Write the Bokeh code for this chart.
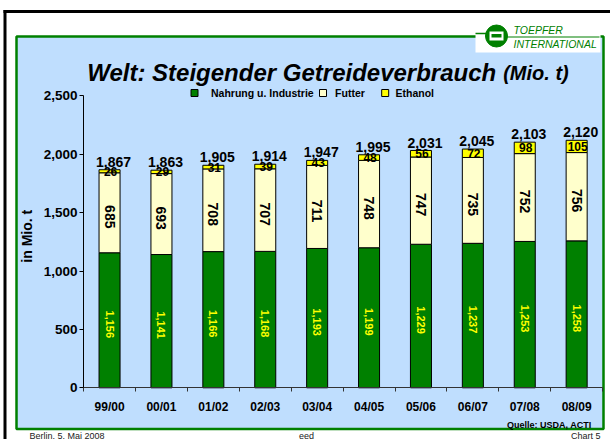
import math
from bokeh.plotting import figure
from bokeh.models import (Range1d, LinearAxis, FixedTicker, NumeralTickFormatter,
                          ColumnDataSource)
from bokeh.core.properties import value
from bokeh.embed import file_html
from bokeh.resources import INLINE

# ---------------- data ----------------
seasons = ["99/00", "00/01", "01/02", "02/03", "03/04",
           "04/05", "05/06", "06/07", "07/08", "08/09"]
nahrung = [1156, 1141, 1166, 1168, 1193, 1199, 1229, 1237, 1253, 1258]
futter = [685, 693, 708, 707, 711, 748, 747, 735, 752, 756]
ethanol = [26, 29, 31, 39, 43, 48, 56, 72, 98, 105]
totals = [1867, 1863, 1905, 1914, 1947, 1995, 2031, 2045, 2103, 2120]
y_ticks = [0, 500, 1000, 1500, 2000, 2500]
series_names = ["Nahrung u. Industrie", "Futter", "Ethanol"]
title_main = "Welt: Steigender Getreideverbrauch"
title_unit = "(Mio. t)"
y_label = "in Mio. t"
source_note = "Quelle: USDA, ACTI"
footer_left, footer_mid, footer_right = "Berlin, 5. Mai 2008", "eed", "Chart 5"
logo_top, logo_bottom = "TOEPFER", "INTERNATIONAL"

# ---------------- styling ----------------
FONT = value("Liberation Sans")
GREEN = "#008000"
CREAM = "#FFFFCC"
YELLOW = "#FFFF00"
PANEL = "#BFDEFE"
series_colors = [GREEN, CREAM, YELLOW]

W, H = 610, 439
X0 = 83.1          # px of the category axis start
STEP = 51.9        # px per category
Y0 = 387.3         # px of value 0
PXU = 292.0 / 2500  # px per unit

p = figure(width=W, height=H, output_backend="svg", toolbar_location=None,
           x_range=Range1d(-X0 / STEP, (W - X0) / STEP),
           y_range=Range1d(-(H - Y0) / PXU, Y0 / PXU),
           x_axis_location=None, y_axis_location=None,
           min_border=0, min_border_left=0, min_border_right=0,
           min_border_top=0, min_border_bottom=0)
p.title.visible = False
p.outline_line_color = None
p.background_fill_color = "white"
p.border_fill_color = "white"
for g in p.grid:
    g.visible = False

p.extra_x_ranges = {"px": Range1d(0, W)}
p.extra_y_ranges = {"px": Range1d(H, 0)}
PX = dict(x_range_name="px", y_range_name="px")

# ---------------- slide decoration ----------------
p.quad(left=[3], right=[W], top=[9.5], bottom=[12.5], fill_color="black",
       line_color=None, **PX)
p.quad(left=[3], right=[6], top=[9.5], bottom=[H], fill_color="black",
       line_color=None, **PX)
p.quad(left=[16], right=[603], top=[36], bottom=[428.5], fill_color=PANEL,
       line_color=GREEN, line_width=2.5, **PX)
# logo
p.quad(left=[475], right=[600], top=[23], bottom=[52], fill_color="white",
       line_color=None, **PX)
p.segment(x0=[475], y0=[33], x1=[486], y1=[33], line_color=GREEN, line_width=1.5, **PX)
p.segment(x0=[506], y0=[36.5], x1=[599], y1=[36.5], line_color=GREEN, line_width=1.2, **PX)
p.circle(x=[496], y=[35.5], radius=11, fill_color=GREEN, line_color=GREEN, **PX)
p.quad(left=[489], right=[503], top=[31], bottom=[40], fill_color="white",
       line_color=None, **PX)
p.quad(left=[491], right=[501], top=[33.5], bottom=[37], fill_color=GREEN,
       line_color=None, **PX)
p.text(x=[513], y=[29.7], text=[logo_top], text_font=FONT, text_font_style="italic",
       text_font_size="10.5px", text_color=GREEN, text_baseline="middle", **PX)
p.text(x=[513], y=[43.3], text=[logo_bottom], text_font=FONT, text_font_style="italic",
       text_font_size="10.5px", text_color=GREEN, text_baseline="middle", **PX)

# title
p.text(x=[86.7], y=[72], text=[title_main], text_font=FONT,
       text_font_style="bold italic", text_font_size="24px", text_color="black",
       text_baseline="alphabetic", **PX)
p.text(x=[502.7], y=[72], text=[title_unit], text_font=FONT,
       text_font_style="bold italic", text_font_size="20px", text_color="black",
       text_baseline="alphabetic", **PX)

# legend
leg_sq_x = [194, 322.5, 384.7]
leg_txt_x = [210.5, 334.6, 395]
for sx, tx, name, col in zip(leg_sq_x, leg_txt_x, series_names, series_colors):
    p.quad(left=[sx - 3.5], right=[sx + 3.5], top=[89], bottom=[96],
           fill_color=col, line_color="black", line_width=1, **PX)
    p.text(x=[tx], y=[92.5], text=[name], text_font=FONT, text_font_style="bold",
           text_font_size="10.5px", text_color="black", text_baseline="middle", **PX)

# y label
p.text(x=[26], y=[235.7], text=[y_label], angle=math.pi / 2, text_font=FONT,
       text_font_style="bold", text_font_size="14px", text_color="black",
       text_align="center", text_baseline="middle", **PX)

# source + footer
p.text(x=[591], y=[424], text=[source_note], text_font=FONT, text_font_style="bold",
       text_font_size="9px", text_color="black", text_align="right",
       text_baseline="middle", **PX)
p.text(x=[29, 306, 600], y=[430] * 3, text=[footer_left, footer_mid, footer_right],
       text_font=FONT, text_font_size="9px", text_color="#222222",
       text_align=["left", "center", "right"], text_baseline="top", **PX)

# ---------------- bars ----------------
centers = [i + 0.5 for i in range(len(seasons))]
shift = 4 / PXU   # rotated labels sit ~4 px below the segment middle
n_mid = [n / 2 - shift for n in nahrung]
f_mid = [n + f / 2 - shift for n, f in zip(nahrung, futter)]
e_mid = [n + f + e / 2 for n, f, e in zip(nahrung, futter, ethanol)]
src = ColumnDataSource(dict(
    x=centers, nahrung=nahrung, futter=futter, ethanol=ethanol, totals=totals,
    n_mid=n_mid, f_mid=f_mid, e_mid=e_mid,
    n_txt=[f"{v:,}" for v in nahrung], f_txt=[f"{v:,}" for v in futter],
    e_txt=[f"{v:,}" for v in ethanol], t_txt=[f"{v:,}" for v in totals],
))
p.vbar_stack(["nahrung", "futter", "ethanol"], x="x", width=0.405,
             color=series_colors, line_color="black", line_width=1, source=src)

p.text(x="x", y="n_mid", text="n_txt", source=src, angle=-math.pi / 2,
       text_font=FONT, text_font_style="bold", text_font_size="11px", text_color=YELLOW,
       text_align="center", text_baseline="middle")
p.text(x="x", y="f_mid", text="f_txt", source=src, angle=-math.pi / 2,
       text_font=FONT, text_font_style="bold", text_font_size="14px", text_color="black",
       text_align="center", text_baseline="middle")
p.text(x="x", y="e_mid", text="e_txt", source=src, x_offset=1,
       text_font=FONT, text_font_style="bold", text_font_size="12px", text_color="black",
       text_align="center", text_baseline="middle")
p.text(x="x", y="totals", text="t_txt", source=src, x_offset=4, y_offset=-8,
       text_font=FONT, text_font_style="bold", text_font_size="14px", text_color="black",
       text_align="center", text_baseline="alphabetic")

# ---------------- axes ----------------
xaxis = LinearAxis(fixed_location=0,
                   ticker=FixedTicker(ticks=centers,
                                      minor_ticks=list(range(len(seasons) + 1))),
                   major_label_overrides={c: s for c, s in zip(centers, seasons)},
                   bounds=(0, len(seasons)))
xaxis.major_tick_out = 0
xaxis.major_tick_in = 0
xaxis.minor_tick_out = 4
xaxis.minor_tick_in = 0
xaxis.axis_line_color = "#333333"
xaxis.minor_tick_line_color = "#333333"
xaxis.major_label_standoff = 8
xaxis.major_label_text_font = "Liberation Sans"
xaxis.major_label_text_font_style = "bold"
xaxis.major_label_text_font_size = "12px"
xaxis.major_label_text_color = "black"
p.add_layout(xaxis, "below")

yaxis = LinearAxis(fixed_location=0, ticker=FixedTicker(ticks=y_ticks),
                   formatter=NumeralTickFormatter(format="0,0"),
                   bounds=(y_ticks[0], y_ticks[-1]))
yaxis.major_tick_out = 4
yaxis.major_tick_in = 0
yaxis.minor_tick_out = 0
yaxis.minor_tick_in = 0
yaxis.axis_line_color = "black"
yaxis.major_tick_line_color = "black"
yaxis.major_label_standoff = 2
yaxis.major_label_text_font = "Liberation Sans"
yaxis.major_label_text_font_style = "bold"
yaxis.major_label_text_font_size = "13.5px"
yaxis.major_label_text_color = "black"
p.add_layout(yaxis, "left")

open("out.html", "w").write(file_html(p, INLINE))
